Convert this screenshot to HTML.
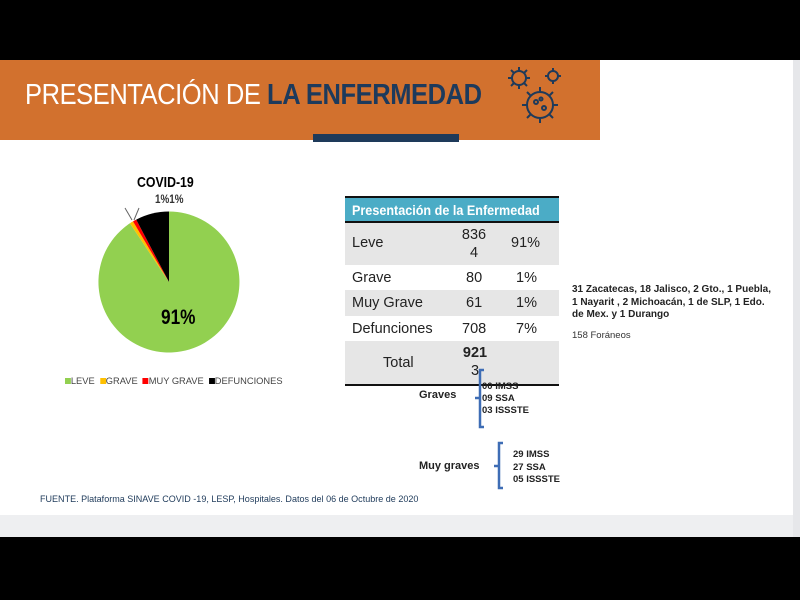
<!DOCTYPE html>
<html><head><meta charset="utf-8"><style>
body{margin:0;width:800px;height:600px;overflow:hidden;background:#000;position:relative;font-family:"Liberation Sans",sans-serif}
.a{position:absolute;white-space:nowrap}
.n{transform-origin:0 0;transform:scaleX(0.82)}
.r{position:absolute;left:345px;width:214px;font-size:14.5px;color:#222}
.r span{position:absolute}
</style></head><body>
<div class="a" style="left:0;top:60px;width:800px;height:455px;background:#fff"></div>
<div class="a" style="left:793px;top:60px;width:7px;height:477px;background:#e6e7ea"></div>
<div class="a" style="left:0;top:515px;width:793px;height:22px;background:#eeeff1"></div>
<div class="a" style="left:0;top:60px;width:600px;height:80px;background:#d2712e"></div>
<div class="a" style="left:313px;top:134px;width:146px;height:8px;background:#1e3a5a"></div>
<div class="a n" style="left:25px;top:79px;font-size:29px;color:#fff;transform:scaleX(0.88);letter-spacing:-0.5px">PRESENTACIÓN DE <b style="color:#1d3a5c">LA ENFERMEDAD</b></div>
<svg class="a" style="left:505px;top:65px" width="60" height="65" viewBox="0 0 60 65" fill="none" stroke="#1e3a5a" stroke-width="2">
<circle cx="14" cy="13" r="7"/><circle cx="48" cy="11" r="5"/><circle cx="35" cy="40" r="13"/>
<circle cx="31" cy="37" r="2"/><circle cx="39" cy="43" r="2"/><circle cx="36" cy="34" r="1.5"/>
<path d="M14 2v4M14 20v4M3 13h4M21 13h4M6 5l3 3M22 5l-3 3M6 21l3-3M22 21l-3-3M48 3v3M48 16v3M40 11h3M53 11h3M35 22v5M35 53v5M17 40h5M48 40h5M22 27l4 4M48 27l-4 4M22 53l4-4M48 53l-4-4"/>
</svg>
<div class="a n" style="left:137px;top:174px;font-size:15px;font-weight:bold">COVID-19</div>
<div class="a n" style="left:155px;top:192px;font-size:12px;font-weight:bold;color:#333">1%1%</div>
<svg class="a" style="left:0;top:0" width="800" height="600">
<g transform="translate(169,282)">
<path d="M0 0L0 -70.5A70.5 70.5 0 1 1 -39.1 -58.7Z" fill="#92d050"/>
<path d="M0 0L-39.1 -58.7A70.5 70.5 0 0 1 -36.0 -60.6Z" fill="#ffc000"/>
<path d="M0 0L-36.0 -60.6A70.5 70.5 0 0 1 -32.8 -62.4Z" fill="#ff0000"/>
<path d="M0 0L-32.8 -62.4A70.5 70.5 0 0 1 0 -70.5Z" fill="#000"/>
</g>
<path d="M125 208l7 12M139 208l-5 12" stroke="#666" stroke-width="1"/>
</svg>
<div class="a n" style="left:161px;top:306px;font-size:21px;font-weight:bold">91%</div>
<div class="a n" style="left:65px;top:376px;font-size:9.5px;color:#444;transform:scaleX(0.98)">
<span style="display:inline-block;width:6px;height:6px;background:#92d050"></span>LEVE &nbsp;<span style="display:inline-block;width:6px;height:6px;background:#ffc000"></span>GRAVE &nbsp;<span style="display:inline-block;width:6px;height:6px;background:#f00"></span>MUY GRAVE &nbsp;<span style="display:inline-block;width:6px;height:6px;background:#000"></span>DEFUNCIONES</div>

<div class="a" style="left:345px;top:196px;width:214px;height:2px;background:#111"></div>
<div class="r" style="top:198px;height:24px;background:#4bacc6"></div>
<div class="a n" style="left:352px;top:202px;font-size:14px;font-weight:bold;color:#fff;transform:scaleX(0.9)">Presentación de la Enfermedad</div>
<div class="a" style="left:345px;top:221px;width:214px;height:2px;background:#111"></div>
<div class="r" style="top:223px;height:42px;background:#e6e6e6"><span style="left:7px;top:12px">Leve</span><span style="left:116px;top:3px;text-align:center;line-height:18px;width:26px">836<br>4</span><span style="left:166px;top:12px">91%</span></div>
<div class="r" style="top:265px;height:25px"><span style="left:7px;top:5px">Grave</span><span style="left:121px;top:5px">80</span><span style="left:171px;top:5px">1%</span></div>
<div class="r" style="top:290px;height:26px;background:#e6e6e6"><span style="left:7px;top:5px">Muy Grave</span><span style="left:121px;top:5px">61</span><span style="left:171px;top:5px">1%</span></div>
<div class="r" style="top:316px;height:25px"><span style="left:7px;top:5px">Defunciones</span><span style="left:117px;top:5px">708</span><span style="left:171px;top:5px">7%</span></div>
<div class="r" style="top:341px;height:44px;background:#e6e6e6"><span style="left:38px;top:14px">Total</span><span style="left:116px;top:3px;line-height:18px;width:28px;text-align:center"><b>921</b><br>3</span></div>
<div class="a" style="left:345px;top:384px;width:214px;height:2px;background:#111"></div>

<div class="a" style="left:572px;top:284px;font-size:10px;font-weight:bold;line-height:12.5px;color:#222">31 Zacatecas, 18 Jalisco, 2 Gto., 1 Puebla,<br>1 Nayarit , 2 Michoacán, 1 de SLP, 1 Edo.<br>de Mex. y 1 Durango</div>
<div class="a" style="left:572px;top:330px;font-size:9.5px;color:#333">158 Foráneos</div>
<svg class="a" style="left:0;top:0" width="800" height="600" fill="none" stroke="#3e6db5" stroke-width="2.5">
<path d="M484 370h-4v57h4M480 398h-5"/>
<path d="M503 443h-4v45h4M499 466h-5"/>
</svg>
<div class="a" style="left:419px;top:389px;font-size:11px;font-weight:bold;color:#222">Graves</div>
<div class="a" style="left:482px;top:381px;font-size:9.5px;font-weight:bold;line-height:12px;color:#222">00 IMSS<br>09 SSA<br>03 ISSSTE</div>
<div class="a" style="left:419px;top:460px;font-size:11px;font-weight:bold;color:#222">Muy graves</div>
<div class="a" style="left:513px;top:449px;font-size:9.5px;font-weight:bold;line-height:12.5px;color:#222">29 IMSS<br>27 SSA<br>05 ISSSTE</div>
<div class="a n" style="left:40px;top:494px;font-size:9.5px;color:#1e3a5a;transform:scaleX(0.95)">FUENTE. Plataforma SINAVE COVID -19, LESP, Hospitales. Datos del 06 de Octubre de 2020</div>
</body></html>
